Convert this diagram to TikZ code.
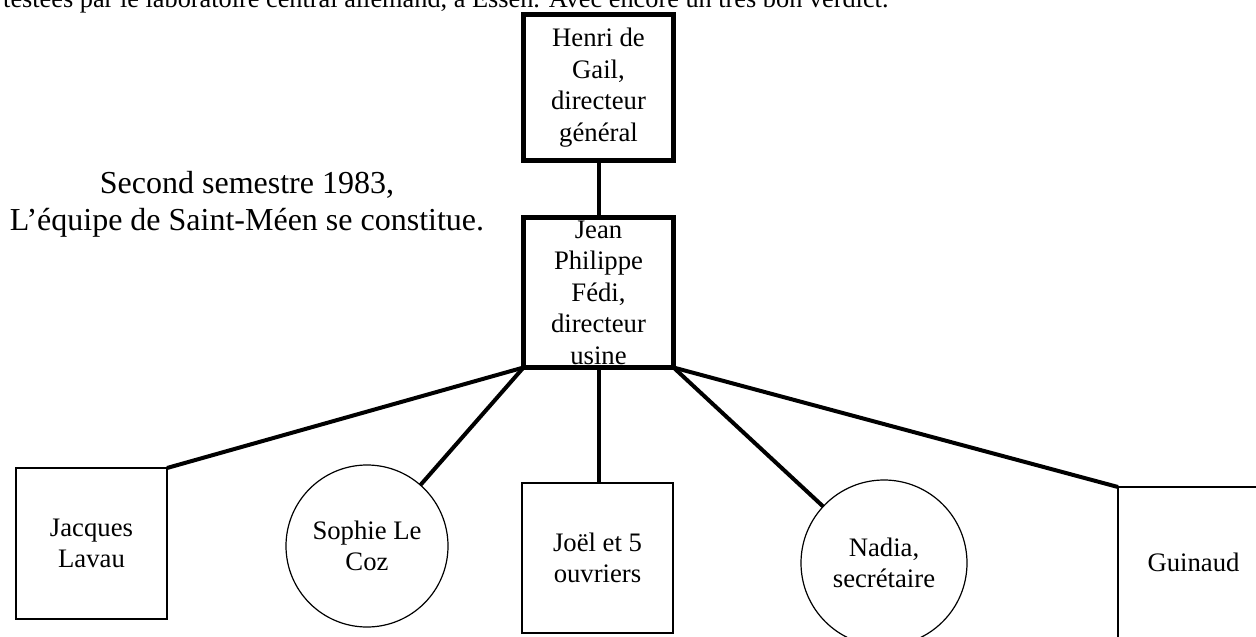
\documentclass[tikz,border=0pt]{standalone}
\usepackage{fontspec}
\setmainfont{Liberation Serif}
\newcommand{\boxfont}{\fontsize{26.7}{31.5}\selectfont}
\newcommand{\topfont}{\fontsize{26.3}{31}\selectfont}
\newcommand{\leftfont}{\fontsize{32}{37}\selectfont}
\begin{document}
\begin{tikzpicture}[x=1pt,y=-1pt,
  heavybox/.style={draw,line width=5pt,rectangle,inner sep=0pt,outer sep=0pt,minimum width=150pt},
  thinbox/.style={draw,line width=1.2pt,rectangle,inner sep=0pt,outer sep=0pt,minimum width=151pt,minimum height=151pt},
  thincirc/.style={draw,line width=1.2pt,circle,inner sep=0pt,outer sep=0pt},
  label/.style={font=\boxfont,align=center,inner sep=0pt},
  link/.style={line width=4pt}]
\useasboundingbox (0,0) rectangle (1256,637);
\clip (0,0) rectangle (1256,637);

\node[anchor=base west,font=\topfont,inner sep=0pt] (toptext) at (3,8)
  {testées par le laboratoire central allemand, à Essen. Avec encore un très bon verdict.};

\node[font=\leftfont,align=center,inner sep=0pt,anchor=base] (lefttext) at (247,230)
  {Second semestre 1983,\\L'équipe de Saint-Méen se constitue.};

% top boxes
\node[heavybox,minimum height=146pt] (henri) at (598.5,87.5) {};
\node[label] (henrit) at (henri.center) {Henri de\\Gail,\\directeur\\général};
\node[heavybox,minimum height=150pt] (jean) at (598.5,292.5) {};
\node[label] (jeant) at (jean.center) {Jean\\Philippe\\Fédi,\\directeur\\usine};

% bottom shapes
\node[thinbox] (jacques) at (91.5,543.5) {};
\node[label] (jacquest) at (jacques.center) {Jacques\\Lavau};
\node[thincirc,minimum size=162pt] (sophie) at (367,546) {};
\node[label] (sophiet) at (sophie.center) {Sophie Le\\Coz};
\node[thinbox,minimum height=150pt] (joel) at (597.5,558) {};
\node[label] (joelt) at (joel.center) {Joël et 5\\ouvriers};
\node[thincirc,minimum size=166pt] (nadia) at (884,563) {};
\node[label] (nadiat) at (nadia.center) {Nadia,\\secrétaire};
\node[thinbox] (guinaud) at (1193.5,562.5) {};
\node[label] (guinaudt) at (guinaud.center) {Guinaud};

% connectors
\draw[link] (henri.south) -- (jean.north);
\draw[link] (jean.south west) -- (jacques.north east);
\draw[link] (jean.south west) -- (sophie);
\draw[link] (jean.south) -- (jean.south |- joel.north);
\draw[link] (jean.south east) -- (nadia);
\draw[link] (jean.south east) -- (guinaud.north west);
\end{tikzpicture}
\end{document}
